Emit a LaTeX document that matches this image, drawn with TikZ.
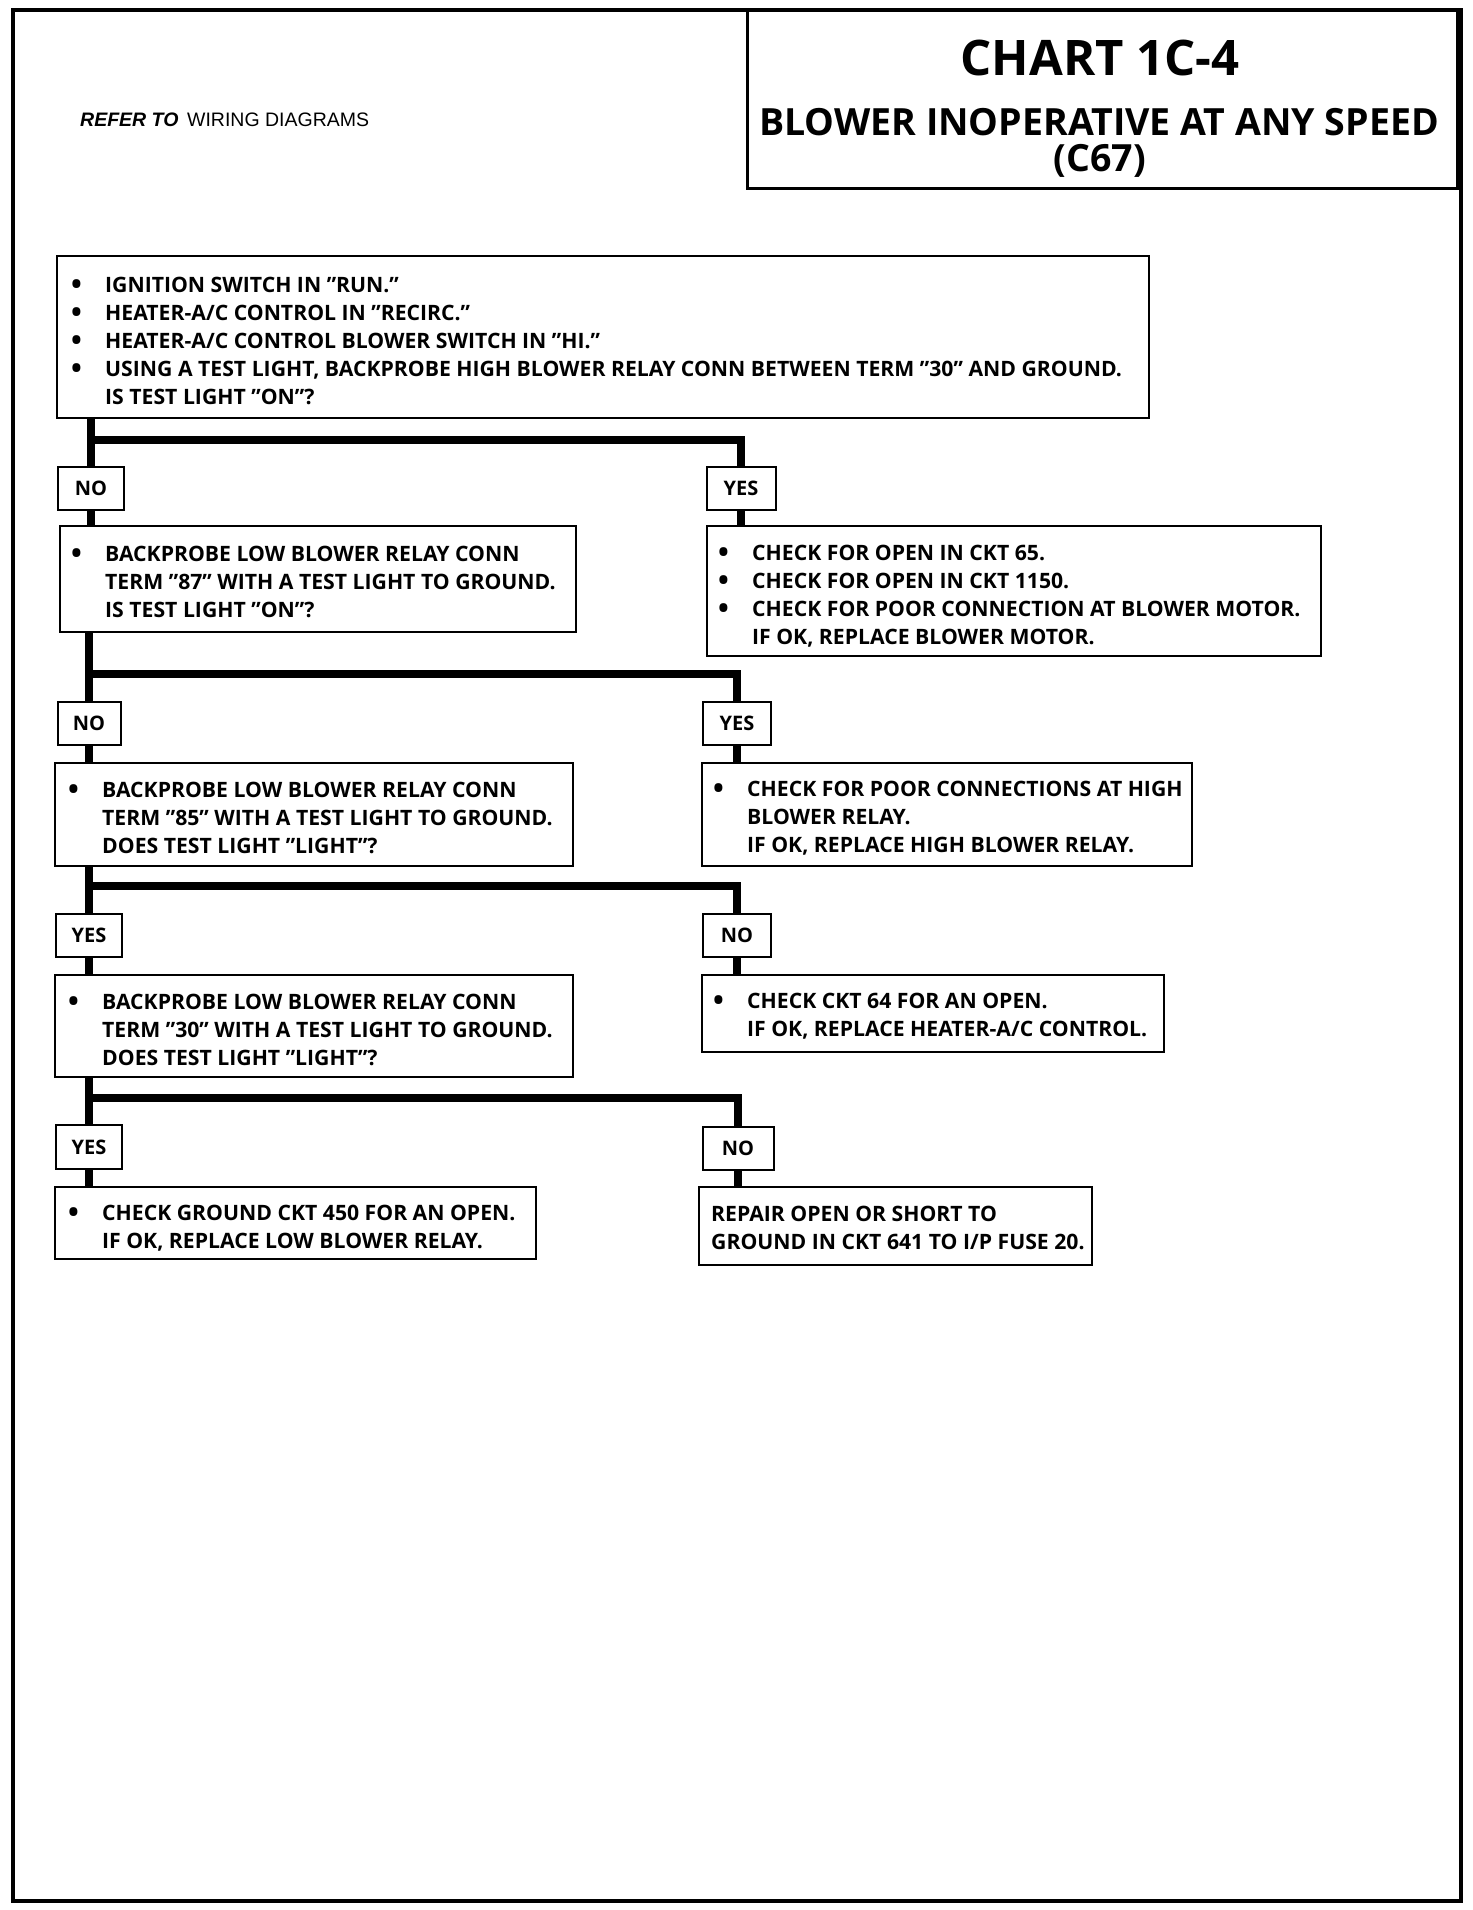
\documentclass[tikz,border=0pt]{standalone}
\usepackage{fontspec}
\setmainfont{Open Sans}
\newfontfamily\reffont{Liberation Sans}
\newcommand\bul{\makebox[33pt][l]{\hspace*{-1pt}\raisebox{-2pt}{\scalebox{1.35}{•}}}}
\newcommand\ind{\hspace*{33pt}}
\tikzset{
  frame/.style={line width=4pt},
  box/.style={draw, line width=2pt, anchor=north west, inner sep=0pt, outer sep=0pt},
  lbl/.style={draw, line width=2pt, inner sep=0pt, outer sep=0pt, minimum height=43pt,
    font=\bfseries\fontsize{20}{20}\selectfont},
  txt/.style={anchor=west, align=left, inner sep=0pt, font=\bfseries\fontsize{21.2}{28}\selectfont},
  conn/.style={line width=7.5pt, line join=miter}
}
\begin{document}
\begin{tikzpicture}[x=1pt,y=-1pt]
\path[use as bounding box, fill=white] (0,0) rectangle (1472,1910);
\draw[frame] (13,10) rectangle (1461,1901);

% title block
\node[box, line width=3pt, minimum width=710, minimum height=179] (tb) at (747,10) {};
\node[font=\bfseries\fontsize{49}{49}\selectfont] (title1) at (1100,58) {CHART 1C-4};
\node[font=\bfseries\fontsize{37.5}{37.5}\selectfont] (title2) at (1099,122) {BLOWER INOPERATIVE AT ANY SPEED};
\node[font=\bfseries\fontsize{37.5}{37.5}\selectfont] (title3) at (1100,161) {(C67)};
\node[anchor=west, inner sep=0pt, font=\reffont\fontsize{19.5}{19.5}\selectfont] (ref) at (80,120) {\textbf{\textit{REFER TO}}\, WIRING DIAGRAMS};

% level 1
\node[box, minimum width=1092, minimum height=162] (b1) at (57,256) {};
\node[txt] (b1t) at ([xshift=15pt,yshift=-4pt]b1.west) {\bul IGNITION SWITCH IN ”RUN.”\\
\bul HEATER-A/C CONTROL IN ”RECIRC.”\\
\bul HEATER-A/C CONTROL BLOWER SWITCH IN ”HI.”\\
\bul USING A TEST LIGHT, BACKPROBE HIGH BLOWER RELAY CONN BETWEEN TERM ”30” AND GROUND.\\
\ind IS TEST LIGHT ”ON”?};

\coordinate (j1) at (91,440);
\node[lbl, minimum width=66] (n1) at (91,488) {NO};
\node[lbl, minimum width=69] (y1) at (741,488) {YES};
\draw[conn] (b1.south -| n1.north) -- (n1.north);
\draw[conn] (j1) -| (y1.north);

% level 2
\node[box, minimum width=516, minimum height=106] (b2l) at (60,526) {};
\node[txt] (b2lt) at ([xshift=12pt,yshift=-3pt]b2l.west) {\bul BACKPROBE LOW BLOWER RELAY CONN\\
\ind TERM ”87” WITH A TEST LIGHT TO GROUND.\\
\ind IS TEST LIGHT ”ON”?};
\node[box, minimum width=614, minimum height=130] (b2r) at (707,526) {};
\node[txt] (b2rt) at ([xshift=12pt,yshift=-5pt]b2r.west) {\bul CHECK FOR OPEN IN CKT 65.\\
\bul CHECK FOR OPEN IN CKT 1150.\\
\bul CHECK FOR POOR CONNECTION AT BLOWER MOTOR.\\
\ind IF OK, REPLACE BLOWER MOTOR.};
\draw[conn] (n1.south) -- (n1.south |- b2l.north);
\draw[conn] (y1.south) -- (y1.south |- b2r.north);

\coordinate (j2) at (89,674);
\node[lbl, minimum width=63] (n2) at (89,723) {NO};
\node[lbl, minimum width=68] (y2) at (737,723) {YES};
\draw[conn] (b2l.south -| n2.north) -- (n2.north);
\draw[conn] (j2) -| (y2.north);

% level 3
\node[box, minimum width=518, minimum height=103] (b3l) at (55,763) {};
\node[txt] (b3lt) at ([xshift=14pt,yshift=-3pt]b3l.west) {\bul BACKPROBE LOW BLOWER RELAY CONN\\
\ind TERM ”85” WITH A TEST LIGHT TO GROUND.\\
\ind DOES TEST LIGHT ”LIGHT”?};
\node[box, minimum width=490, minimum height=103] (b3r) at (702,763) {};
\node[txt] (b3rt) at ([xshift=12pt,yshift=-4pt]b3r.west) {\bul CHECK FOR POOR CONNECTIONS AT HIGH\\
\ind BLOWER RELAY.\\
\ind IF OK, REPLACE HIGH BLOWER RELAY.};
\draw[conn] (n2.south) -- (n2.south |- b3l.north);
\draw[conn] (y2.south) -- (y2.south |- b3r.north);

\coordinate (j3) at (89,886);
\node[lbl, minimum width=66] (y3) at (89,935) {YES};
\node[lbl, minimum width=68] (n3) at (737,935) {NO};
\draw[conn] (b3l.south -| y3.north) -- (y3.north);
\draw[conn] (j3) -| (n3.north);

% level 4
\node[box, minimum width=518, minimum height=102] (b4l) at (55,975) {};
\node[txt] (b4lt) at ([xshift=14pt,yshift=-4pt]b4l.west) {\bul BACKPROBE LOW BLOWER RELAY CONN\\
\ind TERM ”30” WITH A TEST LIGHT TO GROUND.\\
\ind DOES TEST LIGHT ”LIGHT”?};
\node[box, minimum width=462, minimum height=77] (b4r) at (702,975) {};
\node[txt] (b4rt) at ([xshift=12pt,yshift=-3pt]b4r.west) {\bul CHECK CKT 64 FOR AN OPEN.\\
\ind IF OK, REPLACE HEATER-A/C CONTROL.};
\draw[conn] (y3.south) -- (y3.south |- b4l.north);
\draw[conn] (n3.south) -- (n3.south |- b4r.north);

\coordinate (j4) at (89,1098);
\node[lbl, minimum width=66, minimum height=44] (y4) at (89,1147) {YES};
\node[lbl, minimum width=71] (n4) at (738,1148) {NO};
\draw[conn] (b4l.south -| y4.north) -- (y4.north);
\draw[conn] (j4) -| (n4.north);

% level 5
\node[box, minimum width=481, minimum height=72] (b5l) at (55,1187) {};
\node[txt] (b5lt) at ([xshift=14pt,yshift=-5pt]b5l.west) {\bul CHECK GROUND CKT 450 FOR AN OPEN.\\
\ind IF OK, REPLACE LOW BLOWER RELAY.};
\node[box, minimum width=393, minimum height=78] (b5r) at (699,1187) {};
\node[txt] (b5rt) at ([xshift=12pt,yshift=-2pt]b5r.west) {REPAIR OPEN OR SHORT TO\\
GROUND IN CKT 641 TO I/P FUSE 20.};
\draw[conn] (y4.south) -- (y4.south |- b5l.north);
\draw[conn] (n4.south) -- (n4.south |- b5r.north);
\end{tikzpicture}
\end{document}
